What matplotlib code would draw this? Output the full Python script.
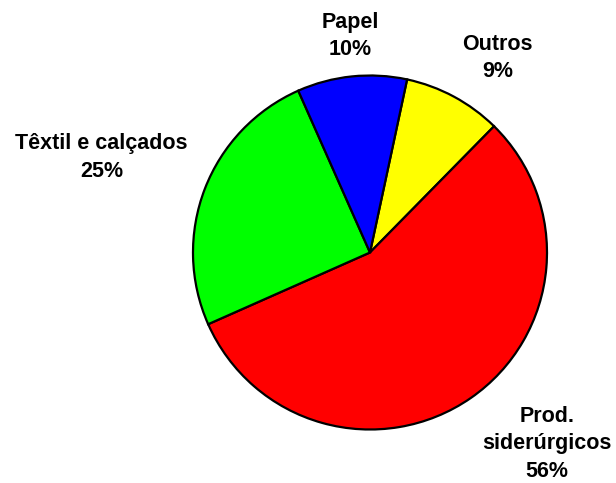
import matplotlib
matplotlib.use("Agg")
import matplotlib.pyplot as plt

categories = ["Outros", "Prod.\nsiderúrgicos", "Têxtil e calçados", "Papel"]
values = [9, 56, 25, 10]
colors = ["#FFFF00", "#FF0000", "#00FF00", "#0000FF"]
pct_labels = ["9%", "56%", "25%", "10%"]

W, H = 616, 483
fig = plt.figure(figsize=(W / 100, H / 100), dpi=100)
ax = fig.add_axes([0, 0, 1, 1])

ax.pie(values, colors=colors, startangle=77.9, counterclock=False,
       center=(370, H - 252.5), radius=177,
       wedgeprops=dict(edgecolor="black", linewidth=1.6), frame=True)
ax.set_xlim(0, W)
ax.set_ylim(0, H)
ax.set_aspect("equal")
ax.axis("off")

label_pos = [(497.5, 58), (547, 444), (101.5, 157.5), (350.5, 36)]
for cat, pct, (x, y) in zip(categories, pct_labels, label_pos):
    ax.text(x, H - y, f"{cat}\n{pct}", ha="center", va="center",
            fontsize=15.5, fontweight="bold", family=["Liberation Sans", "DejaVu Sans"],
            linespacing=1.38)

fig.savefig("out.png", dpi=100)
